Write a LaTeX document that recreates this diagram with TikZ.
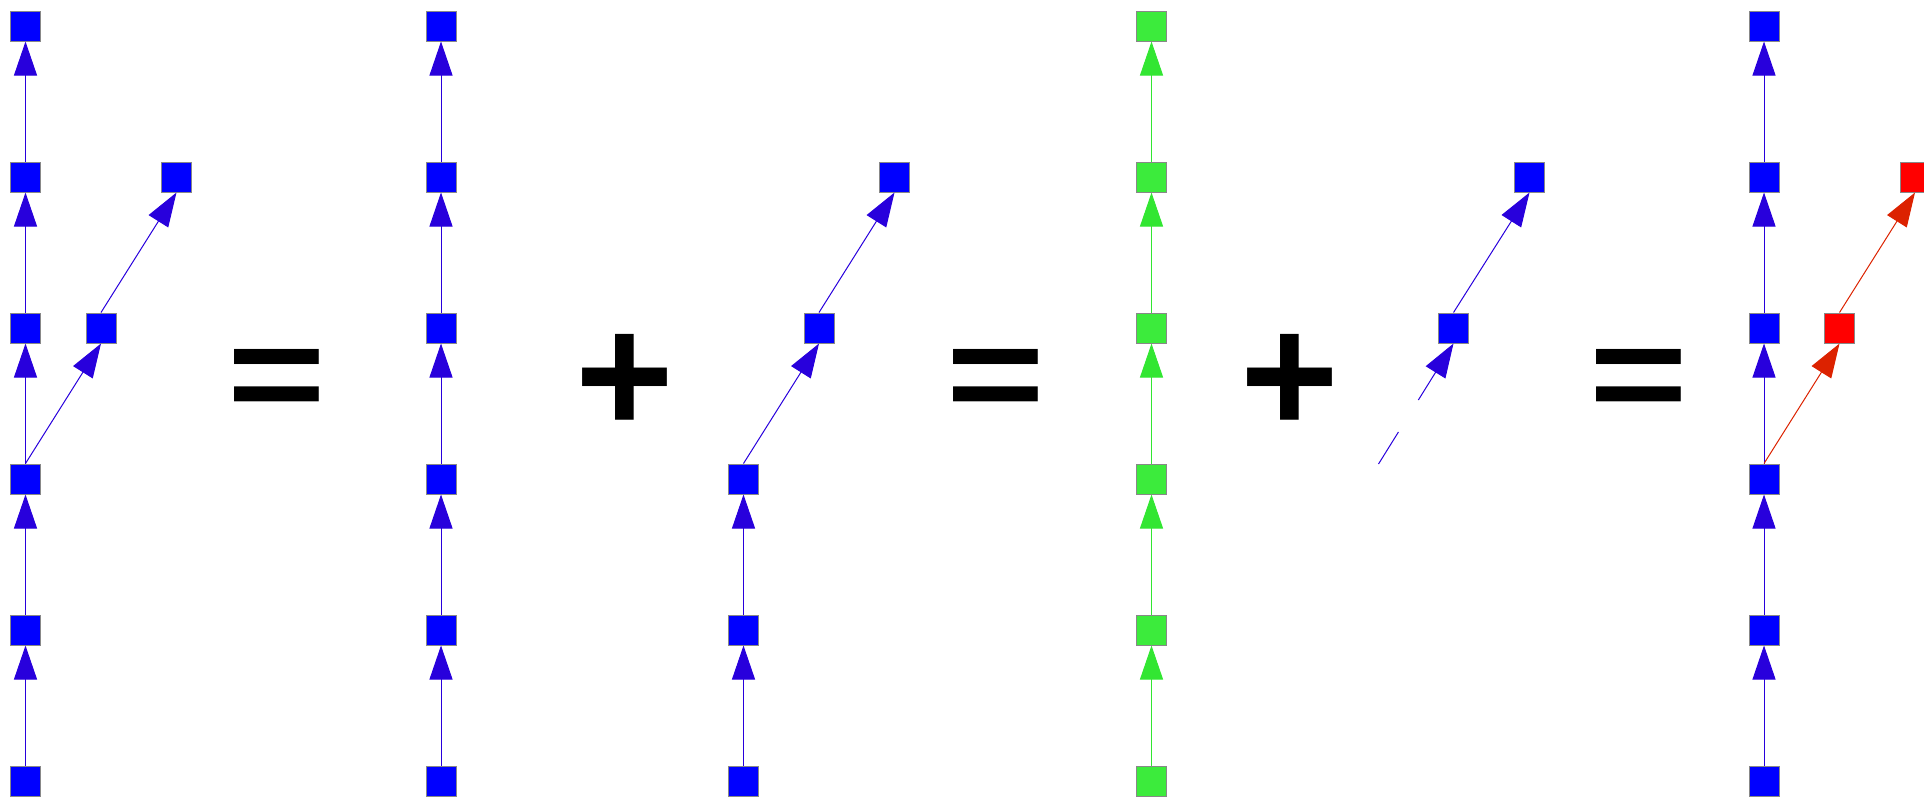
\documentclass[tikz,border=0pt]{standalone}
\usepackage{fontspec}
\setmainfont{Liberation Sans}
\usetikzlibrary{arrows.meta}
\definecolor{nblue}{RGB}{0,0,255}
\definecolor{eblue}{RGB}{40,0,220}
\definecolor{ngreen}{RGB}{60,235,60}
\definecolor{egreen}{RGB}{50,230,50}
\definecolor{nred}{RGB}{255,0,0}
\definecolor{ered}{RGB}{220,34,0}
\definecolor{nborder}{RGB}{136,136,136}
\tikzset{
  sq/.style={rectangle, minimum size=30pt, inner sep=0pt, draw=nborder, line width=1pt},
  bsq/.style={sq, fill=nblue},
  gsq/.style={sq, fill=ngreen},
  rsq/.style={sq, fill=nred},
  edgeline/.style={line width=1pt, -{Triangle[length=34pt,width=23pt]}},
  be/.style={edgeline, color=eblue},
  ge/.style={edgeline, color=egreen},
  re/.style={edgeline, color=ered},
  sym/.style={font=\fontsize{169}{169}\bfseries\selectfont, inner sep=0pt, anchor=base},
  eqsym/.style={sym, yscale=0.82}
}
\begin{document}
\begin{tikzpicture}[x=1pt,y=-1pt]
\useasboundingbox (0,0) rectangle (1924,796);
% group A
\foreach \i in {1,...,6} \node[bsq] (a\i) at (25.5,{26+151*(\i-1)}) {};
\node[bsq] (ad1) at (101,328) {};
\node[bsq] (ad2) at (176.5,177) {};
\foreach \i/\j in {2/1,3/2,4/3,5/4,6/5} \draw[be] (a\i.north) -- (a\j.south);
\draw[be] (a4.north) -- (ad1.south);
\draw[be] (ad1.north) -- (ad2.south);
% group B
\foreach \i in {1,...,6} \node[bsq] (b\i) at (441,{26+151*(\i-1)}) {};
\foreach \i/\j in {2/1,3/2,4/3,5/4,6/5} \draw[be] (b\i.north) -- (b\j.south);
% group C
\foreach \i in {4,5,6} \node[bsq] (c\i) at (743.5,{26+151*(\i-1)}) {};
\node[bsq] (cd1) at (819,328) {};
\node[bsq] (cd2) at (894.5,177) {};
\foreach \i/\j in {5/4,6/5} \draw[be] (c\i.north) -- (c\j.south);
\draw[be] (c4.north) -- (cd1.south);
\draw[be] (cd1.north) -- (cd2.south);
% group D
\foreach \i in {1,...,6} \node[gsq] (d\i) at (1151.5,{26+151*(\i-1)}) {};
\foreach \i/\j in {2/1,3/2,4/3,5/4,6/5} \draw[ge] (d\i.north) -- (d\j.south);
% group E
\coordinate (e0) at (1378.5,464);
\node[bsq] (e1) at (1453.5,328) {};
\node[bsq] (e2) at (1529.5,177) {};
\draw[be, dash pattern=on 37.7pt off 37.7pt] (e0) -- (e1.south);
\draw[be] (e1.north) -- (e2.south);
% group F
\foreach \i in {1,...,6} \node[bsq] (f\i) at (1764,{26+151*(\i-1)}) {};
\node[rsq] (fr1) at (1839.5,328) {};
\node[rsq] (fr2) at (1915,177) {};
\foreach \i/\j in {2/1,3/2,4/3,5/4,6/5} \draw[be] (f\i.north) -- (f\j.south);
\draw[re] (f4.north) -- (fr1.south);
\draw[re] (fr1.north) -- (fr2.south);
% symbols
\node[eqsym] (eq1) at (276.5,421) {=};
\node[sym] (pl1) at (625,433) {+};
\node[eqsym] (eq2) at (995.7,421) {=};
\node[sym] (pl2) at (1290,433) {+};
\node[eqsym] (eq3) at (1639,421) {=};
\end{tikzpicture}
\end{document}
